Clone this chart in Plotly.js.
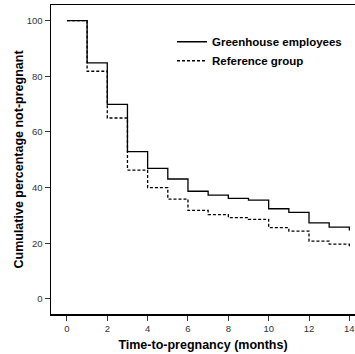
<!DOCTYPE html>
<html>
<head>
<meta charset="utf-8">
<script src="https://cdn.plot.ly/plotly-3.0.1.min.js"></script>
<style>html,body{margin:0;padding:0;background:#fff;}#chart{width:355px;height:354px;}</style>
</head>
<body>
<div id="chart"></div>
<script>
const months = [0, 1, 2, 3, 4, 5, 6, 7, 8, 9, 10, 11, 12, 13, 14];
const greenhouse = [100, 84.8, 69.9, 52.9, 46.9, 43.1, 38.7, 37.3, 36.1, 35.5, 32.4, 31.1, 27.3, 25.8, 24.6];
const reference = [100, 81.8, 65.0, 46.3, 40.0, 35.9, 31.8, 30.3, 29.2, 28.6, 25.6, 24.4, 20.8, 19.7, 18.4];
const seriesNames = ["Greenhouse employees", "Reference group"];
const xTicks = [0, 2, 4, 6, 8, 10, 12, 14];
const yTicks = [0, 20, 40, 60, 80, 100];

const FONT = "Liberation Sans, Arial, Helvetica, sans-serif";

const traces = [
  {x: months, y: reference, name: seriesNames[1], mode: "lines", line: {shape: "hv", color: "#000", width: 1.3, dash: "3px,2px"}},
  {x: months, y: greenhouse, name: seriesNames[0], mode: "lines", line: {shape: "hv", color: "#000", width: 1.3}}
];

const layout = {
  width: 355, height: 354,
  margin: {l: 51, r: 0, t: 5, b: 40},
  paper_bgcolor: "#fff", plot_bgcolor: "#fff",
  showlegend: true,
  legend: {x: 0.398, y: 0.928, xanchor: "left", yanchor: "top", traceorder: "reversed",
           font: {family: FONT, size: 11.5, color: "#000", weight: "bold"}, bgcolor: "rgba(0,0,0,0)", itemwidth: 30, tracegroupgap: 0},
  xaxis: {
    range: [-0.79, 14.28], tickvals: xTicks, ticktext: xTicks.map(String),
    showgrid: false, zeroline: false, showline: true, linecolor: "#000", linewidth: 1.5, mirror: true,
    ticks: "outside", ticklen: 5, tickwidth: 1, tickcolor: "#333",
    tickfont: {family: FONT, size: 9.5, color: "#333"},
    title: {text: "Time-to-pregnancy (months)", font: {family: FONT, size: 12.5, color: "#000", weight: "bold"}, standoff: 7}
  },
  yaxis: {
    range: [-5.4, 105.6], tickvals: yTicks, ticktext: yTicks.map(String),
    showgrid: false, zeroline: false, showline: true, linecolor: "#000", linewidth: 1.5,
    ticks: "outside", ticklen: 5, tickwidth: 1, tickcolor: "#333",
    tickfont: {family: FONT, size: 9.5, color: "#333"},
    title: {text: "Cumulative percentage not-pregnant", font: {family: FONT, size: 12.5, color: "#000", weight: "bold"}, standoff: 0}
  }
};

Plotly.newPlot("chart", traces, layout, {displayModeBar: false, staticPlot: true});
</script>
</body>
</html>
